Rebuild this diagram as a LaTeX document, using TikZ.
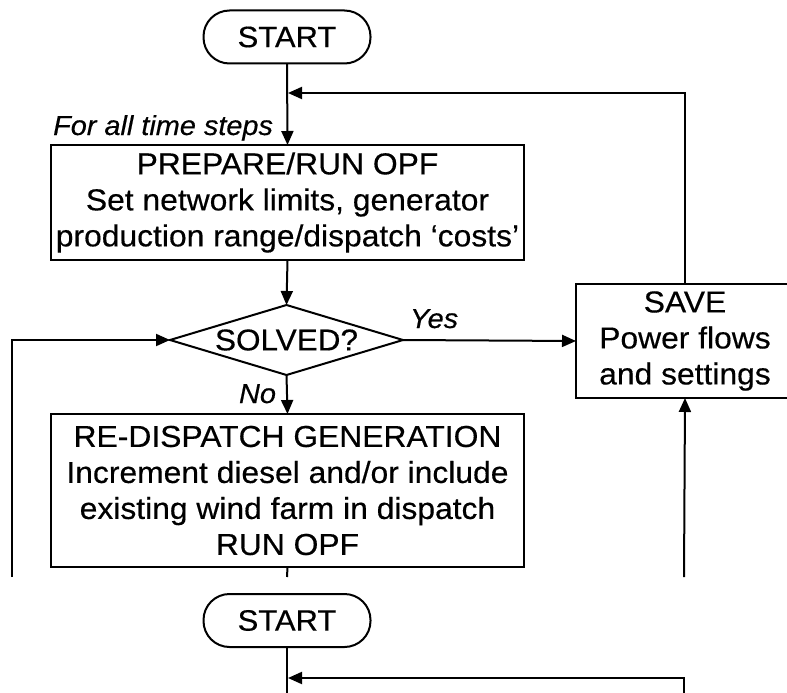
\documentclass[tikz,border=0pt]{standalone}
\usepackage{fontspec}
\setmainfont[FakeStretch=1.05,FakeBold=0.4]{Liberation Sans}
\usetikzlibrary{arrows.meta,shapes.geometric}
\begin{document}
\begin{tikzpicture}[x=1pt,y=-1pt,
  every node/.style={inner sep=0pt, outer sep=0pt},
  box/.style={draw, line width=2pt, rectangle, align=center, font=\fontsize{30.3}{36}\selectfont},
  term/.style={draw, line width=2pt, rectangle, rounded corners=26pt, minimum width=167pt, minimum height=53pt, font=\fontsize{29.5}{34}\selectfont},
  decis/.style={draw, line width=2pt, diamond, aspect=3.33, minimum width=233pt, minimum height=70pt, font=\fontsize{30}{34}\selectfont},
  lab/.style={font=\itshape\fontsize{27.5}{30}\selectfont},
  conn/.style={line width=2pt},
  arr/.style={line width=2pt, -{Triangle[length=14pt,width=12pt]}}
]
\useasboundingbox (0,0) rectangle (787,693);
\clip (0,0) rectangle (787,693);
\fill[white] (0,0) rectangle (787,693);

% upper flowchart
\node[term] (start1) at (287,37) {START};
\node[box, minimum width=473pt, minimum height=115pt] (prep) at (287.5,202.5)
  {PREPARE/RUN OPF\\Set network limits, generator\\production range/dispatch ‘costs’};
\node[decis] (dec) at (286.5,340) {SOLVED?};
\node[box, minimum width=218pt, minimum height=114pt] (save) at (685,341)
  {SAVE\\Power flows\\and settings};
\node[box, minimum width=473pt, minimum height=153pt] (redisp) at (287.5,490.5)
  {RE-DISPATCH GENERATION\\Increment diesel and/or include\\existing wind farm in dispatch\\RUN OPF};

\coordinate (j1) at (288,93);
\coordinate (cutL) at (12,577);
\coordinate (cutM) at (287,577);
\coordinate (cutR) at (684,577);

\draw[arr] (start1.south) -- (prep.north);
\draw[arr] (save.north) |- (j1);
\draw[arr] (prep.south) -- (dec.north);
\draw[arr] (dec.east) -- (save.west);
\draw[arr] (dec.south) -- (redisp.north);
\draw[arr] (cutL) |- (dec.west);
\draw[conn] (redisp.south) -- (cutM);
\draw[arr] (cutR) -- (save.south);

\node[lab, anchor=base east] (lfor) at (273,135) {For all time steps};
\node[lab, anchor=base west] (lyes) at (410,328) {Yes};
\node[lab, anchor=base east] (lno) at (276,403) {No};

% lower repeated fragment
\node[term] (start2) at (287,620.5) {START};
\coordinate (j2) at (288,678);
\coordinate (botM) at (287,700);
\coordinate (botR) at (684,700);
\draw[conn] (start2.south) -- (botM);
\draw[arr] (botR) |- (j2);
\end{tikzpicture}
\end{document}
